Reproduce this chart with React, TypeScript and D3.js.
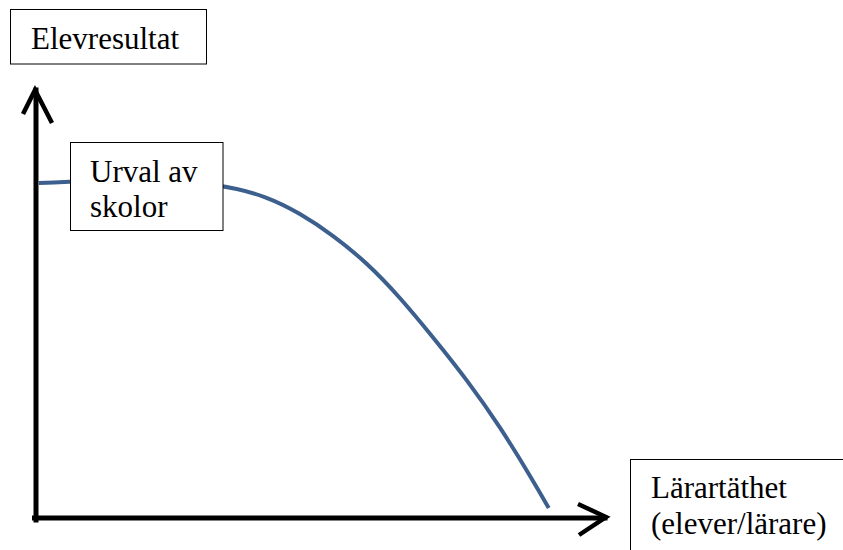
import React from "react";
import * as d3 from "d3";

// Schematic curve: teacher density (x) vs student results (y), in 0–100 units
const curveX = [0.5, 16.5, 32.7, 40.5, 46.2, 52.0, 58.0, 63.7, 69.5, 75.5, 81.3, 87.0, 89.8];
const curveY = [77.9, 78.8, 77.7, 74.7, 70.9, 65.8, 59.3, 51.4, 42.1, 32.1, 21.2, 8.8, 2.3];

const yLabel = ["Elevresultat"];
const noteLabel = ["Urval av", "skolor"];
const xLabel = ["Lärartäthet", "(elever/lärare)"];

const W = 843;
const H = 550;

export default function App() {
  const x = d3.scaleLinear().domain([0, 100]).range([36, 607]);
  const y = d3.scaleLinear().domain([0, 100]).range([518, 88]);

  const points = curveX.map((v, i) => ({ x: v, y: curveY[i] }));
  const line = d3
    .line<{ x: number; y: number }>()
    .x(d => x(d.x))
    .y(d => y(d.y))
    .curve(d3.curveBasis);

  const x0 = x(0);
  const y0 = y(0);
  const xTip = x(100);
  const yTip = y(100);

  return (
    <svg
      width={W}
      height={H}
      style={{ position: "absolute", left: 0, top: 0 }}
    >
      {/* data curve */}
      <path d={line(points) || ""} fill="none" stroke="#3c5f8e" strokeWidth={4} />

      {/* axes */}
      <g stroke="#000" strokeWidth={5} fill="none" strokeLinecap="square">
        <line x1={x0 - 1.5} y1={y0} x2={xTip - 2} y2={y0} />
        <line x1={x0} y1={y0 + 2} x2={x0} y2={yTip + 2} />
      </g>
      <g stroke="#000" strokeWidth={4.5} fill="none" strokeLinejoin="miter" strokeLinecap="butt">
        <polyline points={`${x0 - 13},${yTip + 26} ${x0 - 1},${yTip + 2} ${x0 + 16},${yTip + 35}`} />
        <polyline points={`${xTip - 29},${y0 - 14} ${xTip - 1},${y0 - 1} ${xTip - 28},${y0 + 17}`} />
      </g>

      {/* label boxes */}
      <rect x={10.5} y={9.5} width={196} height={54.5} fill="#fff" stroke="#000" strokeWidth={1} />
      <rect x={70.5} y={142.5} width={152.5} height={88} fill="#fff" stroke="#000" strokeWidth={1} />
      <rect x={630.5} y={459.5} width={240} height={120} fill="#fff" stroke="#000" strokeWidth={1} />

      <text x={31} y={49} style={{ fontFamily: "Liberation Serif", fontSize: 31 }}>{yLabel[0]}</text>
      {noteLabel.map((t, i) => (
        <text key={t} x={90} y={182 + i * 35} style={{ fontFamily: "Liberation Serif", fontSize: 31 }}>{t}</text>
      ))}
      {xLabel.map((t, i) => (
        <text key={t} x={651} y={498 + i * 36} style={{ fontFamily: "Liberation Serif", fontSize: 31 }}>{t}</text>
      ))}
    </svg>
  );
}
